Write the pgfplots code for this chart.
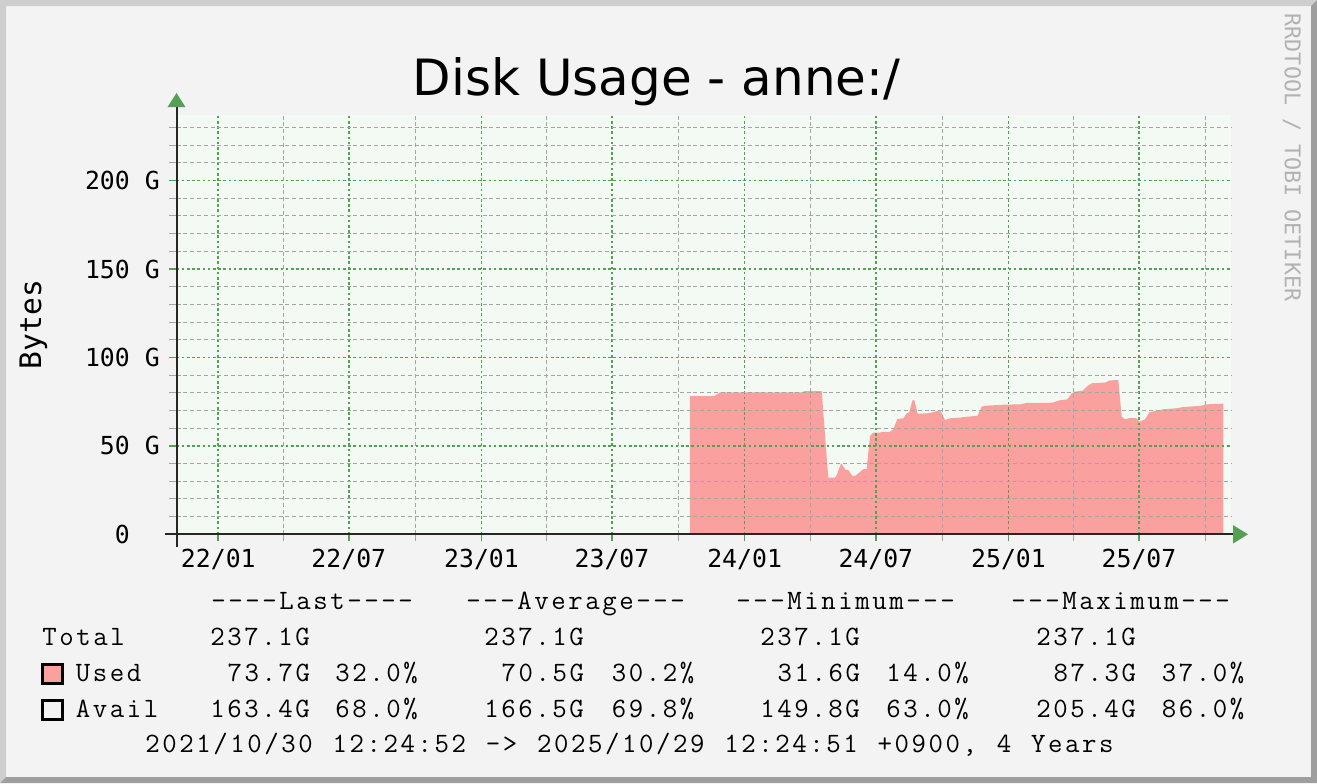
\documentclass[border=0pt]{standalone}
\usepackage{fontspec}
\setmainfont{DejaVu Sans}
\newfontfamily\dvmono{DejaVu Sans Mono}
\newfontfamily\lgfont{Latin Modern Mono}[LetterSpace=9.2]
\usepackage{pgfplots}
\pgfplotsset{compat=1.18}
\usetikzlibrary{arrows.meta}
\definecolor{bgc}{RGB}{243,243,243}
\definecolor{plotbg}{RGB}{243,250,243}
\definecolor{mgreen}{RGB}{85,160,85}
\definecolor{mgray}{RGB}{165,165,165}
\definecolor{upink}{RGB}{250,161,160}
\definecolor{blight}{RGB}{206,206,206}
\definecolor{bdark}{RGB}{158,158,158}
\definecolor{wmark}{RGB}{178,178,178}
\def\h{-\kern1.29pt}
\newcommand{\lgt}[3]{\node[anchor=base west, inner sep=0pt, font=\lgfont\fontsize{14}{16}\selectfont, text=black] at (#1,#2) {#3};}
\newcommand{\sk}{\hspace*{9.93pt}}
\begin{document}
\begin{tikzpicture}
\begin{scope}[x=0.5pt,y=-0.5pt]
\fill[bgc] (0,0) rectangle (1317,783);
\fill[blight] (0,0) -- (1317,0) -- (1311,6) -- (6,6) -- (6,777) -- (0,783) -- cycle;
\fill[bdark] (1317,0) -- (1317,783) -- (0,783) -- (6,777) -- (1311,777) -- (1311,6) -- cycle;
\end{scope}
\begin{axis}[
  at={(88.25pt,-267.15pt)}, anchor=south west,
  scale only axis, width=527.25pt, height=209.65pt,
  xmin=-58.0, xmax=1404.6, ymin=0, ymax=237.1,
  axis background/.style={fill=plotbg},
  axis x line*=bottom, axis y line*=left,
  x axis line style={draw=black!85, line width=1pt, shorten <=-5.75pt, shorten >=-8.5pt, -{Triangle[color=mgreen,fill=mgreen,length=7.5pt,width=9pt]}},
  y axis line style={draw=black!85, line width=1pt, shorten <=-6.3pt, shorten >=-11pt, -{Triangle[color=mgreen,fill=mgreen,length=7pt,width=8.7pt]}},
  xtick={0,181,365,546,730,912,1096,1277},
  xticklabels={22/01,22/07,23/01,23/07,24/01,24/07,25/01,25/07},
  minor xtick={90,273,455,638,821,1004,1186,1369},
  ytick={0,50,100,150,200},
  yticklabels={0\hspace*{14.9pt},50 G,100 G,150 G,200 G},
  minor ytick={10,20,30,40,60,70,80,90,110,120,130,140,160,170,180,190,210,220,230},
  grid=both,
  major grid style={draw=mgreen, line width=0.85pt, dash pattern=on 1.3pt off 1.3pt},
  minor grid style={draw=mgray, line width=0.5pt, dash pattern=on 2pt off 1.4pt},
  tick align=outside, major tick length=3.5pt, minor tick length=3.5pt,
  major tick style={draw=mgreen, line width=0.85pt},
  minor tick style={draw=mgray, line width=0.5pt},
  ticklabel style={font=\dvmono\fontsize{12.4}{14}\selectfont, text=black},
  yticklabel style={anchor=east, inner sep=0pt, xshift=-4.7pt},
  xticklabel style={anchor=base, inner sep=0pt, yshift=-12.85pt},
  axis on top,
]
\addplot[fill=upink, draw=none] coordinates {
(654.2,78.2) (688,78.2) (695.8,80.3) (811.4,80.3) (812,81.0) (836.9,81.0)
(846,32.0) (855.3,32.0) (857.7,33.5) (863.7,40.1) (870.2,36.4) (873.8,36.4)
(879.4,33.0) (884,33.2) (894.6,36.9) (899.2,36.9) (903.9,55.6) (908.5,57.5)
(917.8,57.5) (920.1,57.9) (931.6,58.0) (936.2,59.4) (941.8,65.2) (950.1,65.6)
(954.8,68.4) (958.4,69.0) (962.6,75.6) (965.3,76.0) (970,68.2) (982.5,68.4)
(991.7,69.0) (1001,70.3) (1008,64.6) (1014.8,65.6) (1028.7,66.0) (1033.3,66.3)
(1044.9,66.7) (1053.2,67.1) (1058.8,72.2) (1063.4,72.7) (1088.8,73.3) (1111.9,73.5)
(1121.2,74.3) (1155.9,74.4) (1167.4,75.8) (1177.6,76.3) (1183.6,79.7) (1188.2,80.7)
(1198.9,81.2) (1204.4,83.5) (1211.4,85.4) (1229.8,85.8) (1236.7,87.0) (1248.3,87.3)
(1253,66.5) (1257.6,65.0) (1264.5,65.8) (1273.8,65.6) (1277.4,63.7) (1285.3,65.0)
(1291.3,69.0) (1299.2,69.7) (1310.7,70.7) (1329.3,71.3) (1338.5,72.0) (1361.6,72.6)
(1370.9,73.5) (1393.9,73.9)
} \closedcycle;
\end{axis}
\begin{scope}[x=0.5pt,y=-0.5pt]
\node[anchor=base, inner sep=0pt, font=\fontsize{25}{30}\selectfont] at (656.5,95) {Disk Usage - anne:/};
\node[anchor=base, inner sep=0pt, rotate=90, font=\dvmono\fontsize{14.8}{17}\selectfont] at (41,324.5) {Bytes};
\node[anchor=center, inner sep=0pt, rotate=-90, text=wmark, font=\dvmono\fontsize{10.85}{13}\selectfont] at (1292,157.5) {RRDTOOL / TOBI OETIKER};
% legend
\lgt{211}{609}{\h\h\h\h Last\h\h\h\h}
\lgt{466}{609}{\h\h\h Average\h\h\h}
\lgt{736}{609}{\h\h\h Minimum\h\h\h}
\lgt{1011}{609}{\h\h\h Maximum\h\h\h}
\lgt{42}{645}{Total}
\lgt{210}{645}{237.1G}
\lgt{484}{645}{237.1G}
\lgt{760}{645}{237.1G}
\lgt{1036}{645}{237.1G}
\fill[upink] (42.2,664.2) rectangle (62.8,683.5);
\draw[black, line width=1.5pt] (42.2,664.2) rectangle (62.8,683.5);
\lgt{75.5}{681}{Used}
\lgt{227.3}{681}{73.7G}
\lgt{335}{681}{32.0\%}
\lgt{501.3}{681}{70.5G}
\lgt{611.5}{681}{30.2\%}
\lgt{777.3}{681}{31.6G}
\lgt{886}{681}{14.0\%}
\lgt{1053.3}{681}{87.3G}
\lgt{1161.5}{681}{37.0\%}
\draw[black, line width=1.5pt] (42.2,700.5) rectangle (62.8,719.5);
\lgt{75.5}{717.5}{Avail}
\lgt{210}{717.5}{163.4G}
\lgt{335}{717.5}{68.0\%}
\lgt{484}{717.5}{166.5G}
\lgt{611.5}{717.5}{69.8\%}
\lgt{760}{717.5}{149.8G}
\lgt{886}{717.5}{63.0\%}
\lgt{1036}{717.5}{205.4G}
\lgt{1161.5}{717.5}{86.0\%}
\lgt{145}{752}{2021/10/30\sk 12:24:52\sk ->\sk 2025/10/29\sk 12:24:51\sk +0900,\sk 4\sk Years}
\end{scope}
\end{tikzpicture}
\end{document}
